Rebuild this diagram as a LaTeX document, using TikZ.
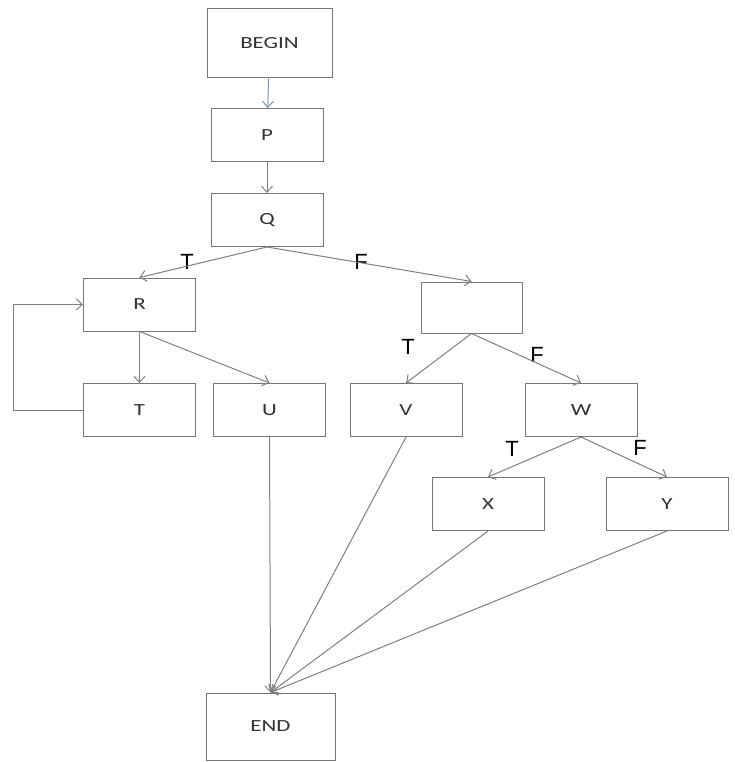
\documentclass[tikz,border=0pt]{standalone}
\usepackage{fontspec}
\usetikzlibrary{arrows.meta}
\newfontfamily\boxfont[FakeStretch=1.35]{Carlito}
\newfontfamily\labelfont{Liberation Sans}
\definecolor{framegray}{RGB}{118,118,118}
\definecolor{edgegray}{RGB}{128,128,128}
\definecolor{textgray}{RGB}{50,50,50}
\definecolor{startblue}{RGB}{125,145,178}
\begin{document}
\begin{tikzpicture}[x=1pt,y=-1pt,
  box/.style={draw=framegray,line width=1pt,minimum width=112pt,minimum height=53pt,inner sep=0pt,text=textgray,font=\boxfont\fontsize{17}{17}\selectfont},
  tf/.style={font=\labelfont\fontsize{22}{22}\selectfont},
  flow/.style={draw=edgegray,line width=1pt,-{Straight Barb[length=6pt,width=11pt]}}]
\useasboundingbox[fill=white] (0,0) rectangle (735,762);
% boxes
\node[box,minimum width=125pt,minimum height=69pt] (begin) at (269.5,43.5) {BEGIN};
\node[box] (p) at (267,135) {P};
\node[box] (q) at (267,220) {Q};
\node[box] (r) at (139.5,304.5) {R};
\node[box,minimum width=101pt,minimum height=51pt] (cond) at (471.5,307.5) {};
\node[box] (t) at (139.5,410) {T};
\node[box] (u) at (269.5,410) {U};
\node[box] (v) at (406,410) {V};
\node[box] (w) at (581,410) {W};
\node[box] (x) at (488,504) {X};
\node[box,minimum width=122pt] (y) at (667,504) {Y};
\node[box,minimum width=129pt,minimum height=67pt] (end) at (270.5,726.5) {END};
% branch labels
\node[tf] (qt) at (187,262) {T}; \node[tf] (qf) at (361,262) {F};
\node[tf] (ct) at (408,347) {T}; \node[tf] (cf) at (537,355) {F};
\node[tf] (wt) at (512,449) {T}; \node[tf] (wf) at (640,448) {F};
% connectors
\draw[flow,draw=startblue] (begin) -- (p);
\draw[flow] (p) -- (q);
\draw[flow] (q.south) -- (r.north);
\draw[flow] (q.south) -- (cond.north);
\draw[flow] (r.south) -- (t.north);
\draw[flow] (r.south) -- (u.north);
\draw[flow] (t.west) -- ++(-70,0) |- (r.west);
\draw[flow] (cond.south) -- (v.north);
\draw[flow] (cond.south) -- (w.north);
\draw[flow] (w.south) -- (x.north);
\draw[flow] (w.south) -- (y.north);
\foreach \from in {u,v,x,y}
  \draw[flow] (\from.south) -- (end.north);
\end{tikzpicture}
\end{document}
